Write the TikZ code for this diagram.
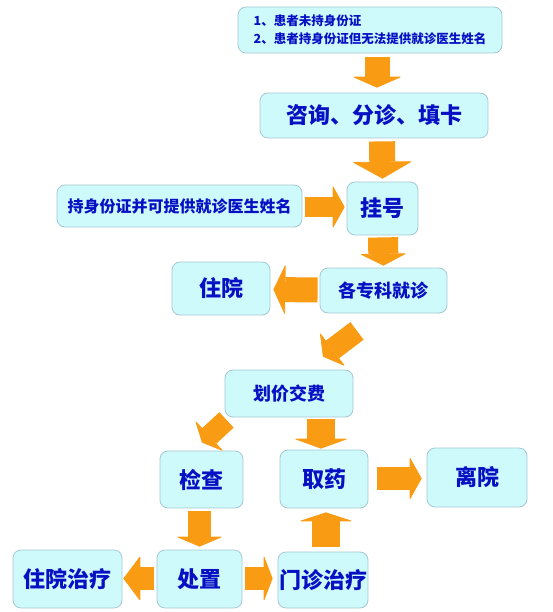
\documentclass[tikz,border=0pt]{standalone}
\usepackage{fontspec}
\setmainfont{Noto Sans CJK SC}
\usetikzlibrary{arrows.meta}
\definecolor{boxfill}{RGB}{206,250,252}
\definecolor{boxline}{RGB}{165,200,210}
\definecolor{txt}{RGB}{8,16,195}
\definecolor{arr}{RGB}{250,155,20}
\tikzset{
  box/.style={draw=boxline, fill=boxfill, rounded corners=8pt, line width=0.8pt,
    inner sep=0pt, text=txt, font=\fontsize{22}{26}\selectfont\bfseries},
  mid/.style={font=\fontsize{18}{22}\selectfont\bfseries},
  small/.style={font=\fontsize{16}{20}\selectfont\bfseries},
  fat/.style n args={3}{draw=arr, line width=#1pt,
    -{Triangle[width=#2pt,length=#3pt,line width=0.8pt,round]}},
}
\begin{document}
\begin{tikzpicture}[x=1pt,y=-1pt]
\useasboundingbox (0,0) rectangle (553,612);
% nodes
\node[box, minimum width=264pt, minimum height=46pt, align=left,
  font=\fontsize{12.5}{18}\selectfont\bfseries] (n0) at (370,30)
  {1、患者未持身份证\\2、患者持身份证但无法提供就诊医生姓名};
\node[box, minimum width=228pt, minimum height=45pt] (n1) at (374,115.5) {咨询、分诊、填卡};
\node[box, minimum width=71pt, minimum height=53pt] (n2) at (382.5,208.5) {挂号};
\node[box, small, minimum width=245pt, minimum height=42pt] (n3) at (179.5,206) {持身份证并可提供就诊医生姓名};
\node[box, mid, minimum width=127pt, minimum height=45pt] (n4) at (383.5,290.5) {各专科就诊};
\node[box, minimum width=98pt, minimum height=53pt] (n5) at (221,288.5) {住院};
\node[box, mid, minimum width=128pt, minimum height=47pt] (n6) at (289,393.5) {划价交费};
\node[box, minimum width=83pt, minimum height=57pt] (n7) at (201.5,479.5) {检查};
\node[box, minimum width=88pt, minimum height=58pt] (n8) at (324,479) {取药};
\node[box, minimum width=100pt, minimum height=59pt] (n9) at (477,477.5) {离院};
\node[box, minimum width=109pt, minimum height=58pt] (n10) at (67.5,579) {住院治疗};
\node[box, minimum width=85pt, minimum height=58pt] (n11) at (199.5,579) {处置};
\node[box, minimum width=90pt, minimum height=56pt] (n12) at (323,580) {门诊治疗};
% arrows
\draw[fat={25}{50}{11}] ([shift={(7,4)}]n0.south) -- ([shift={(3,-5)}]n1.north);
\draw[fat={26}{60}{17}] ([shift={(8,3)}]n1.south) -- ([shift={(0,-3)}]n2.north);
\draw[fat={20}{43}{12}] ([shift={(3,1)}]n3.east) -- ([shift={(-2,-1.5)}]n2.west);
\draw[fat={30}{47}{12}] ([shift={(0.5,2)}]n2.south) -- ([shift={(0,-2)}]n4.north);
\draw[fat={25}{51}{12}] ([shift={(-2,-0.5)}]n4.west) -- ([shift={(3,1)}]n5.east);
\draw[fat={22}{42}{12}] ([shift={(-26.5,17.5)}]n4.south) -- ([shift={(34,-13)}]n6.north);
\draw[fat={21}{42}{10}] ([shift={(-62.5,2.5)}]n6.south) -- ([shift={(0.5,-8)}]n7.north);
\draw[fat={28}{55}{10}] ([shift={(32,2)}]n6.south) -- ([shift={(-3,-1)}]n8.north);
\draw[fat={23}{43}{12}] ([shift={(9,-0.5)}]n8.east) -- ([shift={(-5,1)}]n9.west);
\draw[fat={23}{47}{10}] ([shift={(-2,3)}]n7.south) -- ([shift={(0,-3)}]n11.north);
\draw[fat={23}{45}{17}] ([shift={(-3,-0.5)}]n11.west) -- ([shift={(1,-0.5)}]n10.east);
\draw[fat={23}{47}{9}] ([shift={(3,-0.5)}]n11.east) -- ([shift={(-5,-1.5)}]n12.west);
\draw[fat={28}{55}{9}] ([shift={(3,-5)}]n12.north) -- ([shift={(2,4)}]n8.south);
\end{tikzpicture}
\end{document}
